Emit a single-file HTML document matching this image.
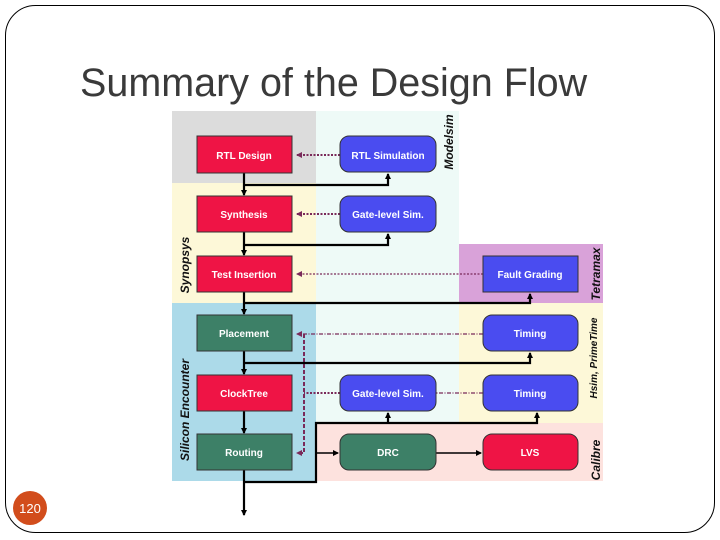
<!DOCTYPE html>
<html><head><meta charset="utf-8"><style>
html,body{margin:0;padding:0;background:#fff;}
svg{display:block;font-family:"Liberation Sans",Arial,sans-serif;}
.b{font-weight:bold;font-size:10px;fill:#fff;text-anchor:middle;}
.lab{font-weight:bold;font-style:italic;font-size:12px;fill:#111;text-anchor:middle;}
</style></head><body>
<svg width="720" height="540" viewBox="0 0 720 540" xmlns="http://www.w3.org/2000/svg">
<defs>
<marker id="a" markerWidth="6" markerHeight="6" refX="5" refY="3" orient="auto" markerUnits="userSpaceOnUse"><path d="M0,0 L6,3 L0,6 z" fill="#000"/></marker>
<marker id="p" markerWidth="6" markerHeight="6" refX="5" refY="3" orient="auto" markerUnits="userSpaceOnUse"><path d="M0,0 L6,3 L0,6 z" fill="#7a2a5a"/></marker>
</defs>
<rect x="5.5" y="5.5" width="709" height="527" rx="30" fill="#fff" stroke="#000" stroke-width="1"/>
<text x="80" y="96" font-size="39.5" fill="#3a3a3a">Summary of the Design Flow</text>
<circle cx="30" cy="508" r="17" fill="#d24d1c"/>
<text x="30" y="513" font-size="13" fill="#fff" text-anchor="middle">120</text>

<rect x="316" y="111" width="143" height="312" fill="#eefaf7"/>
<rect x="172" y="111" width="144" height="72" fill="#dcdcdc"/>
<rect x="172" y="183" width="144" height="120" fill="#fdf8d8"/>
<rect x="459" y="244" width="144" height="59" fill="#d9a2d9"/>
<rect x="172" y="303" width="144" height="178" fill="#acdae9"/>
<rect x="459" y="303" width="144" height="120" fill="#fdf8d8"/>
<rect x="316" y="423" width="287" height="58" fill="#fde2de"/>

<g stroke="#7a2a5a" stroke-width="2" fill="none" stroke-dasharray="2,1.5">
<line x1="340" y1="155" x2="297" y2="155" marker-end="url(#p)"/>
<line x1="340" y1="214" x2="297" y2="214" marker-end="url(#p)"/>
<line x1="483" y1="274" x2="297" y2="274" marker-end="url(#p)" stroke-width="1.2"/>
<line x1="483" y1="334" x2="297" y2="334" marker-end="url(#p)" stroke-width="1.2" stroke-dasharray="4,1.5,1,1.5"/>
<line x1="340" y1="393" x2="304" y2="393"/>
<line x1="483" y1="393" x2="436" y2="393" stroke-width="1.2" stroke-dasharray="4,1.5,1,1.5"/>
<polyline points="304,334 304,453 297,453" stroke-dasharray="4,2" marker-end="url(#p)"/>
</g>

<g stroke="#000" stroke-width="2.2" fill="none">
<line x1="244" y1="173" x2="244" y2="195" marker-end="url(#a)"/>
<polyline points="244,185 388,185 388,174" marker-end="url(#a)"/>
<line x1="244" y1="232" x2="244" y2="255" marker-end="url(#a)"/>
<polyline points="244,245 388,245 388,234" marker-end="url(#a)"/>
<line x1="244" y1="292" x2="244" y2="314" marker-end="url(#a)"/>
<polyline points="244,303 530,303 530,294" marker-end="url(#a)"/>
<line x1="244" y1="351" x2="244" y2="374" marker-end="url(#a)"/>
<polyline points="244,363 530,363 530,353" marker-end="url(#a)"/>
<line x1="244" y1="411" x2="244" y2="433" marker-end="url(#a)"/>
<line x1="244" y1="470" x2="244" y2="515" marker-end="url(#a)"/>
<polyline points="244,482 316,482 316,423 537,423 537,413" marker-end="url(#a)"/>
<line x1="388" y1="423" x2="388" y2="413" marker-end="url(#a)"/>
<line x1="316" y1="453" x2="338" y2="453" marker-end="url(#a)" stroke-width="1.5"/>
<line x1="436" y1="453" x2="481" y2="453" marker-end="url(#a)" stroke-width="1.5"/>
</g>

<g stroke="#333" stroke-width="1">
<rect x="197" y="136" width="95" height="37" fill="#ef1445"/>
<rect x="340" y="136" width="96" height="36" rx="9" fill="#4a4cf0"/>
<rect x="197" y="196" width="95" height="36" fill="#ef1445"/>
<rect x="340" y="196" width="96" height="36" rx="9" fill="#4a4cf0"/>
<rect x="197" y="256" width="95" height="36" fill="#ef1445"/>
<rect x="483" y="256" width="95" height="36" fill="#4a4cf0"/>
<rect x="197" y="315" width="95" height="36" fill="#3d8067"/>
<rect x="483" y="315" width="95" height="36" rx="9" fill="#4a4cf0"/>
<rect x="197" y="375" width="95" height="36" fill="#ef1445"/>
<rect x="340" y="375" width="96" height="36" rx="9" fill="#4a4cf0"/>
<rect x="483" y="375" width="95" height="36" rx="9" fill="#4a4cf0"/>
<rect x="197" y="434" width="95" height="36" fill="#3d8067"/>
<rect x="340" y="434" width="96" height="36" rx="9" fill="#3d8067"/>
<rect x="483" y="434" width="95" height="36" rx="9" fill="#ef1445"/>
</g>
<text class="b" x="244" y="159">RTL Design</text>
<text class="b" x="388" y="159">RTL Simulation</text>
<text class="b" x="244" y="218">Synthesis</text>
<text class="b" x="388" y="218">Gate-level Sim.</text>
<text class="b" x="244" y="278">Test Insertion</text>
<text class="b" x="530" y="278">Fault Grading</text>
<text class="b" x="244" y="337">Placement</text>
<text class="b" x="530" y="337">Timing</text>
<text class="b" x="244" y="397">ClockTree</text>
<text class="b" x="388" y="397">Gate-level Sim.</text>
<text class="b" x="530" y="397">Timing</text>
<text class="b" x="244" y="456">Routing</text>
<text class="b" x="388" y="456">DRC</text>
<text class="b" x="530" y="456">LVS</text>

<text class="lab" transform="translate(453,142) rotate(-90)">Modelsim</text>
<text class="lab" transform="translate(189,265) rotate(-90)">Synopsys</text>
<text class="lab" transform="translate(600,274) rotate(-90)">Tetramax</text>
<text class="lab" transform="translate(189,410) rotate(-90)">Silicon Encounter</text>
<text class="lab" transform="translate(597,358) rotate(-90)" style="font-size:10px">Hsim, PrimeTime</text>
<text class="lab" transform="translate(600,460) rotate(-90)">Calibre</text>
</svg>
</body></html>
